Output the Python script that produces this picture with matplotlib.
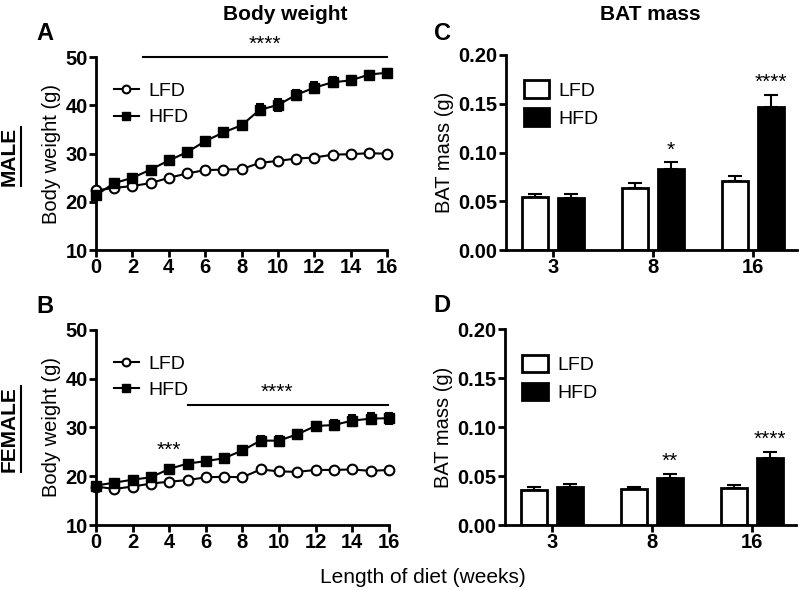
import matplotlib
matplotlib.use("Agg")
import matplotlib.pyplot as plt
import numpy as np
from matplotlib.lines import Line2D

plt.rcParams['font.family'] = ['Liberation Sans', 'DejaVu Sans']

weeks = list(range(17))

# male body weight (g)
male_lfd = [22.4, 22.9, 23.3, 23.9, 25.0, 25.9, 26.6, 26.7, 26.8, 28.1, 28.5, 29.0, 29.2, 29.8, 29.9, 30.1, 30.0]
male_lfd_err = [0.3, 0.3, 0.3, 0.3, 0.3, 0.3, 0.3, 0.3, 0.3, 0.4, 0.4, 0.4, 0.4, 0.4, 0.4, 0.4, 0.4]
male_hfd = [21.4, 23.9, 25.0, 26.7, 28.6, 30.3, 32.6, 34.4, 35.9, 39.1, 40.1, 42.2, 43.7, 44.8, 45.2, 46.4, 46.8]
male_hfd_err = [0.4, 0.4, 0.4, 0.5, 0.5, 0.5, 0.6, 0.6, 0.8, 1.1, 1.2, 1.1, 1.1, 1.0, 1.0, 0.8, 0.8]

# female body weight (g)
female_lfd = [17.9, 17.4, 17.9, 18.5, 18.9, 19.2, 19.8, 19.9, 19.8, 21.4, 21.0, 20.9, 21.3, 21.3, 21.4, 21.1, 21.3]
female_lfd_err = [0.3, 0.3, 0.3, 0.3, 0.3, 0.3, 0.3, 0.3, 0.3, 0.4, 0.4, 0.4, 0.4, 0.4, 0.4, 0.4, 0.4]
female_hfd = [18.1, 18.7, 19.3, 19.8, 21.5, 22.6, 23.1, 23.7, 25.3, 27.3, 27.3, 28.6, 30.3, 30.5, 31.4, 31.8, 31.9]
female_hfd_err = [0.4, 0.4, 0.4, 0.4, 0.5, 0.5, 0.5, 0.6, 0.7, 0.9, 1.0, 0.9, 0.9, 1.0, 1.1, 1.1, 1.1]

# BAT mass (g)
bat_weeks = ['3', '8', '16']
male_bat_lfd = [0.054, 0.064, 0.071]
male_bat_lfd_err = [0.004, 0.005, 0.0045]
male_bat_hfd = [0.053, 0.083, 0.147]
male_bat_hfd_err = [0.005, 0.007, 0.012]
female_bat_lfd = [0.036, 0.037, 0.038]
female_bat_lfd_err = [0.003, 0.002, 0.003]
female_bat_hfd = [0.039, 0.048, 0.069]
female_bat_hfd_err = [0.003, 0.004, 0.006]
male_bat_stars = ['', '*', '****']
female_bat_stars = ['', '**', '****']

fig = plt.figure(figsize=(8, 5.9), dpi=100)
axA = fig.add_axes([0.12, 0.576, 0.364, 0.327])
axB = fig.add_axes([0.12, 0.110, 0.366, 0.331])
axC = fig.add_axes([0.6325, 0.576, 0.364, 0.331])
axD = fig.add_axes([0.631, 0.110, 0.364, 0.332])


def style_axis(ax):
    for s in ['top', 'right']:
        ax.spines[s].set_visible(False)
    for s in ['left', 'bottom']:
        ax.spines[s].set_linewidth(2)
    ax.tick_params(width=2, length=5, labelsize=14.5, pad=1)
    for lab in ax.get_xticklabels() + ax.get_yticklabels():
        lab.set_fontweight('bold')


def weight_panel(ax, lfd, lfd_err, hfd, hfd_err):
    ax.errorbar(weeks, lfd, yerr=lfd_err, color='black', marker='o', mfc='white', mec='black',
                ms=7, mew=1.5, lw=1.5, capsize=3, elinewidth=1.5, capthick=1.5,
                label='LFD', clip_on=False, zorder=3)
    ax.errorbar(weeks, hfd, yerr=hfd_err, color='black', marker='s', mfc='black', mec='black',
                ms=6.5, lw=1.5, capsize=3, elinewidth=1.5, capthick=1.5,
                label='HFD', clip_on=False, zorder=4)
    ax.set_xlim(0, 16)
    ax.set_ylim(10, 50)
    ax.set_xticks(range(0, 17, 2))
    ax.set_yticks([10, 20, 30, 40, 50])
    ax.set_ylabel('Body weight (g)', fontsize=14.5, labelpad=3)
    h, l = ax.get_legend_handles_labels()
    h = [hh[0] for hh in h]
    ax.legend(h, l, loc='upper left', bbox_to_anchor=(0.0, 0.96), frameon=False,
              fontsize=14, handlelength=1.3, handletextpad=0.5, labelspacing=0.45,
              markerscale=0.8)
    style_axis(ax)


def bat_panel(ax, lfd, lfd_err, hfd, hfd_err, stars):
    x = np.arange(len(bat_weeks))
    w = 0.26
    ax.bar(x - 0.18, lfd, w, yerr=[np.zeros(3), lfd_err], color='white', edgecolor='black',
           linewidth=2, capsize=5, error_kw=dict(elinewidth=1.5, capthick=1.5), label='LFD')
    ax.bar(x + 0.18, hfd, w, yerr=[np.zeros(3), hfd_err], color='black', edgecolor='black',
           linewidth=2, capsize=5, error_kw=dict(elinewidth=1.5, capthick=1.5), label='HFD')
    for i in range(len(x)):
        if stars[i]:
            ax.text(x[i] + 0.18, hfd[i] + hfd_err[i] + 0.003, stars[i], ha='center', va='bottom',
                    fontsize=15)
    ax.set_xlim(-0.47, 2.44)
    ax.set_ylim(0, 0.20)
    ax.set_xticks(x)
    ax.set_xticklabels(bat_weeks)
    ax.set_yticks([0, 0.05, 0.10, 0.15, 0.20])
    ax.set_yticklabels(['0.00', '0.05', '0.10', '0.15', '0.20'])
    ax.set_ylabel('BAT mass (g)', fontsize=14.5, labelpad=3)
    ax.legend(loc='upper left', bbox_to_anchor=(0.0, 0.96), frameon=False, fontsize=14,
              handlelength=1.3, handleheight=1.0, handletextpad=0.5, labelspacing=0.45)
    style_axis(ax)


weight_panel(axA, male_lfd, male_lfd_err, male_hfd, male_hfd_err)
weight_panel(axB, female_lfd, female_lfd_err, female_hfd, female_hfd_err)
bat_panel(axC, male_bat_lfd, male_bat_lfd_err, male_bat_hfd, male_bat_hfd_err, male_bat_stars)
bat_panel(axD, female_bat_lfd, female_bat_lfd_err, female_bat_hfd, female_bat_hfd_err, female_bat_stars)

# significance marks on weight curves
axA.plot([2.6, 16], [50, 50], color='black', lw=1.5, clip_on=False)
axA.text(9.3, 50.8, '****', ha='center', va='bottom', fontsize=15, clip_on=False)
axB.plot([5, 16], [34.6, 34.6], color='black', lw=1.5)
axB.text(9.9, 35.3, '****', ha='center', va='bottom', fontsize=15)
axB.text(4.0, 23.3, '***', ha='center', va='bottom', fontsize=15)

# titles and panel letters
fig.text(0.356, 0.976, 'Body weight', ha='center', va='center', fontsize=15, fontweight='bold')
fig.text(0.8125, 0.976, 'BAT mass', ha='center', va='center', fontsize=15, fontweight='bold')
fig.text(0.056, 0.944, 'A', ha='center', va='center', fontsize=17, fontweight='bold')
fig.text(0.553, 0.944, 'C', ha='center', va='center', fontsize=17, fontweight='bold')
fig.text(0.056, 0.480, 'B', ha='center', va='center', fontsize=17, fontweight='bold')
fig.text(0.553, 0.483, 'D', ha='center', va='center', fontsize=17, fontweight='bold')
fig.text(0.528, 0.022, 'Length of diet (weeks)', ha='center', va='center', fontsize=15)

male = fig.text(0.012, 0.735, 'MALE', ha='center', va='center', rotation=90, fontsize=15, fontweight='bold')
female = fig.text(0.012, 0.273, 'FEMALE', ha='center', va='center', rotation=90, fontsize=15, fontweight='bold')

# underline the rotated sex labels
fig.canvas.draw()
r = fig.canvas.get_renderer()
inv = fig.transFigure.inverted()
for t in [male, female]:
    bb = t.get_window_extent(renderer=r)
    (x0, y0), (x1, y1) = inv.transform([[bb.x0, bb.y0], [bb.x1, bb.y1]])
    fig.add_artist(Line2D([x1 + 0.002, x1 + 0.002], [y0, y1], color='black', lw=1.5,
                          transform=fig.transFigure))

fig.savefig('out.png', dpi=100)
